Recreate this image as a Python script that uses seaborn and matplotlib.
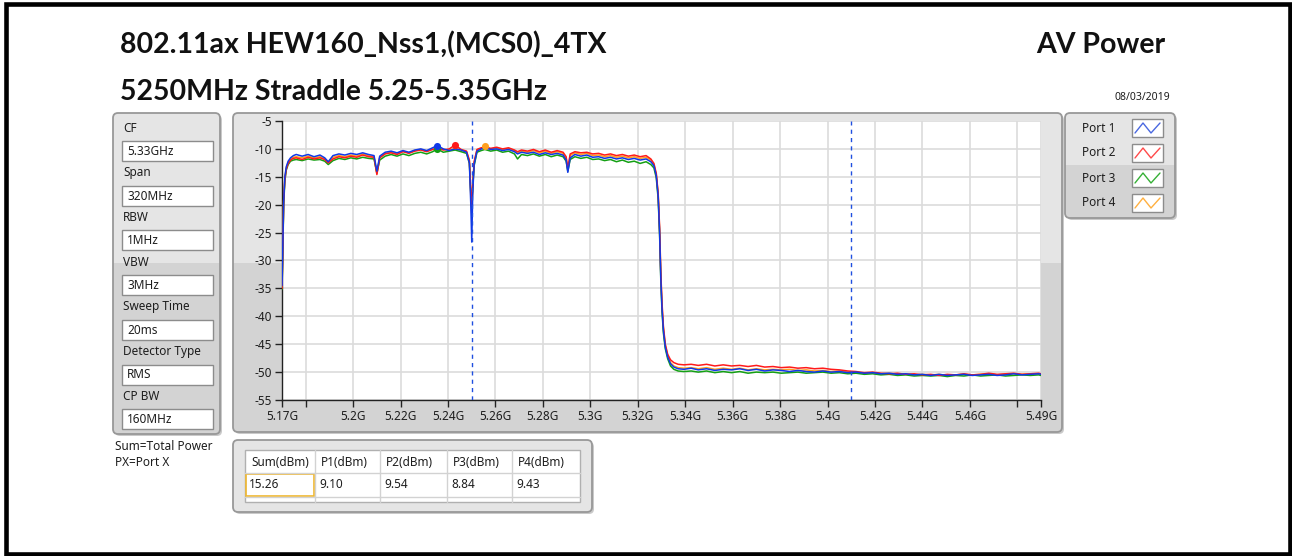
import numpy as np
import pandas as pd
import matplotlib
matplotlib.use("Agg")
import matplotlib.pyplot as plt
import seaborn as sns
from matplotlib.patches import FancyBboxPatch, Rectangle

# spectrum trace, frequency in GHz, level in dBm
freq_ghz = [
    5.1700, 5.1703, 5.1707, 5.1712, 5.1718, 5.1726, 5.1736, 5.1748,
    5.1760, 5.1785, 5.1810, 5.1835, 5.1860, 5.1880, 5.1895, 5.1915,
    5.1940, 5.1965, 5.1990, 5.2015, 5.2040, 5.2065, 5.2088, 5.2100,
    5.2112, 5.2135, 5.2160, 5.2185, 5.2210, 5.2235, 5.2260, 5.2285,
    5.2310, 5.2335, 5.2355, 5.2380, 5.2405, 5.2430, 5.2455, 5.2478,
    5.2490, 5.2496, 5.2500, 5.2504, 5.2510, 5.2522, 5.2540, 5.2555,
    5.2580, 5.2605, 5.2630, 5.2655, 5.2680, 5.2693, 5.2710, 5.2735,
    5.2760, 5.2785, 5.2810, 5.2835, 5.2860, 5.2885, 5.2898, 5.2905,
    5.2915, 5.2935, 5.2960, 5.2985, 5.3010, 5.3035, 5.3060, 5.3085,
    5.3110, 5.3135, 5.3160, 5.3185, 5.3210, 5.3235, 5.3255, 5.3268,
    5.3278, 5.3286, 5.3292, 5.3297, 5.3302, 5.3308, 5.3316, 5.3326,
    5.3338, 5.3352, 5.3370, 5.3395, 5.3425, 5.3455, 5.3490, 5.3525,
    5.3560, 5.3595, 5.3630, 5.3665, 5.3700, 5.3735, 5.3770, 5.3805,
    5.3840, 5.3875, 5.3910, 5.3945, 5.3980, 5.4015, 5.4050, 5.4085,
    5.4120, 5.4155, 5.4190, 5.4225, 5.4260, 5.4295, 5.4330, 5.4365,
    5.4400, 5.4435, 5.4470, 5.4505, 5.4540, 5.4575, 5.4610, 5.4645,
    5.4680, 5.4715, 5.4750, 5.4785, 5.4820, 5.4855, 5.4890, 5.4900,
]

port1_dbm = [
    -34.5, -28.5, -19.5, -15.0, -13.2, -12.2, -11.6, -11.2,
    -11.0, -11.3, -11.0, -11.4, -11.1, -11.6, -12.3, -11.2,
    -10.9, -11.1, -10.8, -11.0, -10.7, -11.0, -11.2, -14.0,
    -11.3, -10.6, -10.4, -10.7, -10.3, -10.6, -10.2, -10.0,
    -10.3, -9.8, -9.4, -10.0, -10.3, -10.0, -10.2, -10.6,
    -12.5, -20.0, -26.7, -18.0, -12.8, -10.4, -10.0, -9.8,
    -10.1, -10.0, -10.3, -10.1, -10.5, -10.9, -10.6, -10.8,
    -10.6, -11.0, -10.7, -11.0, -10.8, -11.1, -12.0, -14.2,
    -11.6, -11.0, -11.3, -11.1, -11.5, -11.4, -11.7, -11.5,
    -11.8, -11.6, -11.9, -11.7, -12.0, -11.8, -12.3, -13.0,
    -14.8, -18.5, -25.0, -33.0, -38.5, -42.5, -45.5, -47.3,
    -48.5, -49.1, -49.4, -49.5, -49.3, -49.6, -49.4, -49.7,
    -49.5, -49.6, -49.4, -49.7, -49.5, -49.8, -49.6, -49.7,
    -49.9, -49.7, -49.9, -50.0, -49.8, -50.0, -49.9, -50.1,
    -50.0, -50.2, -50.1, -50.3, -50.2, -50.4, -50.3, -50.5,
    -50.4, -50.6, -50.4, -50.6, -50.5, -50.4, -50.6, -50.5,
    -50.4, -50.6, -50.5, -50.3, -50.5, -50.4, -50.3, -50.4,
]

port2_dbm = [
    -35.0, -29.0, -19.2, -15.5, -13.6, -12.6, -12.0, -11.7,
    -11.6, -11.9, -11.5, -11.8, -11.6, -11.9, -12.5, -11.8,
    -11.4, -11.6, -11.3, -11.5, -11.1, -11.4, -11.5, -14.6,
    -11.6, -10.9, -10.7, -11.0, -10.5, -10.8, -10.4, -10.2,
    -10.5, -10.1, -9.9, -10.2, -10.0, -9.3, -10.1, -10.4,
    -12.0, -17.5, -20.3, -16.5, -12.3, -10.1, -9.8, -9.7,
    -9.9, -9.7, -10.0, -9.8, -10.2, -10.5, -10.2, -10.4,
    -10.1, -10.5, -10.2, -10.6, -10.3, -10.6, -11.4, -13.5,
    -10.9, -10.5, -10.7, -10.6, -10.9, -10.8, -11.1, -10.9,
    -11.2, -11.0, -11.3, -11.1, -11.4, -11.2, -11.8, -12.6,
    -14.4, -18.0, -24.0, -32.0, -37.5, -41.8, -45.0, -46.8,
    -47.8, -48.3, -48.6, -48.7, -48.6, -48.8, -48.6, -48.9,
    -48.7, -48.9, -48.8, -49.0, -48.8, -49.1, -49.0, -49.2,
    -49.1, -49.3, -49.2, -49.4, -49.3, -49.5, -49.6, -49.8,
    -49.9, -50.1, -50.0, -50.2, -50.3, -50.2, -50.4, -50.3,
    -50.5, -50.4, -50.6, -50.4, -50.5, -50.3, -50.5, -50.4,
    -50.2, -50.4, -50.3, -50.2, -50.4, -50.3, -50.2, -50.3,
]

port3_dbm = [
    -35.2, -29.5, -20.0, -15.8, -13.8, -12.8, -12.2, -12.0,
    -11.9, -12.1, -11.8, -12.0, -11.9, -12.2, -12.8, -12.1,
    -11.7, -11.9, -11.6, -11.8, -11.5, -11.7, -11.8, -14.3,
    -12.0, -11.3, -11.0, -11.3, -10.9, -11.2, -10.8, -10.6,
    -10.9, -10.5, -10.0, -10.6, -10.4, -10.2, -10.5, -10.8,
    -12.6, -18.0, -20.5, -17.0, -13.0, -10.6, -10.3, -10.1,
    -10.4, -10.2, -10.6, -10.4, -10.9, -11.8, -11.0, -11.2,
    -10.9, -11.3, -11.0, -11.4, -11.1, -11.4, -12.2, -14.0,
    -11.9, -11.4, -11.7, -11.5, -11.9, -11.8, -12.1, -11.9,
    -12.3, -12.0, -12.4, -12.2, -12.6, -12.3, -12.8, -13.4,
    -15.2, -19.0, -25.5, -33.5, -39.0, -43.0, -45.8, -47.6,
    -48.9, -49.5, -49.8, -49.9, -49.8, -50.0, -49.8, -50.1,
    -49.9, -50.1, -49.9, -50.2, -50.0, -50.1, -50.0, -50.2,
    -50.1, -50.0, -50.2, -50.1, -50.0, -50.2, -50.1, -50.3,
    -50.2, -50.4, -50.3, -50.5, -50.4, -50.6, -50.5, -50.7,
    -50.6, -50.7, -50.6, -50.8, -50.6, -50.7, -50.5, -50.7,
    -50.6, -50.5, -50.7, -50.6, -50.5, -50.6, -50.5, -50.6,
]

port4_dbm = [
    -34.8, -28.8, -19.4, -15.2, -13.4, -12.4, -11.8, -11.5,
    -11.4, -11.6, -11.3, -11.6, -11.4, -11.8, -12.4, -11.5,
    -11.2, -11.4, -11.1, -11.3, -10.9, -11.2, -11.4, -14.4,
    -11.5, -10.8, -10.6, -10.9, -10.4, -10.7, -10.3, -10.1,
    -10.4, -10.0, -9.8, -10.1, -10.2, -9.9, -10.2, -10.5,
    -12.2, -18.5, -22.0, -17.0, -12.5, -10.2, -9.9, -9.5,
    -10.0, -9.8, -10.1, -9.9, -10.3, -10.7, -10.4, -10.6,
    -10.3, -10.7, -10.4, -10.8, -10.5, -10.8, -11.7, -13.8,
    -11.2, -10.7, -11.0, -10.8, -11.2, -11.1, -11.4, -11.2,
    -11.5, -11.3, -11.6, -11.4, -11.7, -11.5, -12.0, -12.8,
    -14.6, -18.2, -24.5, -32.5, -38.0, -42.2, -45.2, -47.0,
    -48.3, -48.9, -49.2, -49.3, -49.2, -49.4, -49.2, -49.5,
    -49.3, -49.5, -49.3, -49.6, -49.4, -49.6, -49.5, -49.6,
    -49.5, -49.7, -49.6, -49.8, -49.7, -49.9, -49.8, -50.0,
    -50.1, -50.2, -50.1, -50.3, -50.2, -50.4, -50.3, -50.5,
    -50.4, -50.5, -50.4, -50.6, -50.5, -50.4, -50.5, -50.4,
    -50.3, -50.5, -50.4, -50.3, -50.4, -50.3, -50.3, -50.4,
]

ports = ["Port 1", "Port 2", "Port 3", "Port 4"]
port_colors = ["#1038e8", "#ff1a1a", "#14a014", "#ffa020"]
legend_colors = ["#4a68e0", "#ff4a4a", "#36b036", "#ffb040"]

cursor_freqs = [5.25, 5.41]

y_ticks = [-55, -50, -45, -40, -35, -30, -25, -20, -15, -10, -5]
x_ticks = [5.17, 5.18, 5.20, 5.22, 5.24, 5.26, 5.28, 5.30, 5.32,
           5.34, 5.36, 5.38, 5.40, 5.42, 5.44, 5.46, 5.48, 5.49]
x_tick_labels = ["5.17G", "", "5.2G", "5.22G", "5.24G", "5.26G", "5.28G", "5.3G", "5.32G",
                 "5.34G", "5.36G", "5.38G", "5.4G", "5.42G", "5.44G", "5.46G", "", "5.49G"]

setting_names = ["CF", "Span", "RBW", "VBW", "Sweep Time", "Detector Type", "CP BW"]
setting_values = ["5.33GHz", "320MHz", "1MHz", "3MHz", "20ms", "RMS", "160MHz"]

table_headers = ["Sum(dBm)", "P1(dBm)", "P2(dBm)", "P3(dBm)", "P4(dBm)"]
table_values = ["15.26", "9.10", "9.54", "8.84", "9.43"]

title1 = "802.11ax HEW160_Nss1,(MCS0)_4TX"
title2 = "5250MHz Straddle 5.25-5.35GHz"
mode_text = "AV Power"
date_text = "08/03/2019"

sns.set_theme(style="white")
plt.rcParams["font.family"] = ["Noto Sans", "DejaVu Sans"]

W, H = 1292, 556
fig = plt.figure(figsize=(W / 100, H / 100), dpi=100)
fig.patch.set_facecolor("white")

# background layer in pixel coordinates
bg = fig.add_axes([0, 0, 1, 1])
bg.set_xlim(0, W)
bg.set_ylim(H, 0)
bg.axis("off")

txt = "#1e1e1e"


def panel(x0, y0, x1, y1, split=None, light="#e5e5e5", dark="#d3d3d3"):
    bg.add_patch(FancyBboxPatch((x0 + 2, y0 + 2), x1 - x0, y1 - y0,
                                boxstyle="round,pad=0,rounding_size=5",
                                fc="#c9c9c9", ec="none"))
    p = FancyBboxPatch((x0, y0), x1 - x0, y1 - y0,
                       boxstyle="round,pad=0,rounding_size=5",
                       fc=light, ec="none")
    bg.add_patch(p)
    if split is not None:
        r = Rectangle((x0, split), x1 - x0, y1 - split, fc=dark, ec="none")
        bg.add_patch(r)
        r.set_clip_path(p)
    bg.add_patch(FancyBboxPatch((x0, y0), x1 - x0, y1 - y0,
                                boxstyle="round,pad=0,rounding_size=5",
                                fc="none", ec="#989898", lw=1.3))


# outer frame
bg.add_patch(Rectangle((5.5, 4), 1284.5, 549.5, fc="none", ec="black", lw=3.3))

# titles
title_font = dict(fontsize=20.5, fontweight="bold", va="center",
                  family=["Lato", "DejaVu Sans"], color="#111111")
bg.text(120, 45, title1, ha="left", **title_font)
bg.text(120, 92, title2, ha="left", **title_font)
bg.text(1165, 45, mode_text, ha="right", **title_font)
bg.text(1170, 97, date_text, fontsize=7.5, va="center", ha="right", color=txt)

# settings panel
panel(113, 113, 220, 434, split=263)
for i, (name, val) in enumerate(zip(setting_names, setting_values)):
    yc = 128 + i * 44.7
    bg.text(123, yc, name, fontsize=8.5, va="center", ha="left", color=txt)
    bg.add_patch(Rectangle((122, yc + 13), 91, 20, fc="white", ec="#8c8c8c", lw=1))
    bg.text(127, yc + 23.5, val, fontsize=8.5, va="center", ha="left", color=txt)

bg.text(115, 447, "Sum=Total Power", fontsize=8.5, va="center", ha="left", color=txt)
bg.text(115, 463, "PX=Port X", fontsize=8.5, va="center", ha="left", color=txt)

# graph panel
panel(233, 113, 1062, 432, split=263)

# legend panel
panel(1065, 113, 1175, 218, split=165)
for i, (name, col) in enumerate(zip(ports, legend_colors)):
    yc = 128 + i * 25
    bg.text(1082, yc, name, fontsize=8.5, va="center", ha="left", color=txt)
    bg.add_patch(Rectangle((1132, yc - 9), 31, 18, fc="white", ec="#8c8c8c", lw=1))
    bg.plot([1135, 1143, 1151, 1160], [yc + 5, yc - 5, yc + 5, yc - 5], color=col, lw=1)

# results table
panel(233, 440, 592, 512)
bg.add_patch(Rectangle((245, 450), 335, 52, fc="white", ec="#b0b0b0", lw=1))
col_edges = [245, 315, 380, 447, 512, 580]
for x in col_edges[1:-1]:
    bg.plot([x, x], [450, 502], color="#d2d2d2", lw=1)
for y in [473, 497]:
    bg.plot([245, 580], [y, y], color="#d2d2d2", lw=1)
for i, (hd, val) in enumerate(zip(table_headers, table_values)):
    bg.text(col_edges[i] + 6, 462, hd, fontsize=8.5, va="center", ha="left", color=txt)
    bg.text(col_edges[i] + 4, 485, val, fontsize=8.5, va="center", ha="left", color=txt)
bg.add_patch(Rectangle((246, 474), 68, 22, fc="none", ec="#f0b830", lw=1.2))

# spectrum plot
ax = fig.add_axes([282 / W, 1 - 400 / H, (1041 - 282) / W, (400 - 121) / H])
ax.set_facecolor("white")

df = pd.DataFrame({
    "freq": freq_ghz * 4,
    "level": port1_dbm + port2_dbm + port3_dbm + port4_dbm,
    "port": [p for p in ports for _ in freq_ghz],
})
draw_order = ["Port 4", "Port 3", "Port 2", "Port 1"]
palette = dict(zip(ports, port_colors))
sns.lineplot(data=df, x="freq", y="level", hue="port", hue_order=draw_order,
             palette=palette, estimator=None, sort=False, lw=1.1,
             legend=False, ax=ax, zorder=3)

# peak markers
for p in draw_order:
    sub = df[df["port"] == p]
    k = sub["level"].idxmax()
    ax.scatter(sub.loc[k, "freq"], sub.loc[k, "level"], s=26, color=palette[p],
               zorder=4, linewidths=0)

for f in cursor_freqs:
    ax.axvline(f, color="#1f4fe0", lw=1, ls=(0, (3, 3)), zorder=5)

ax.set_xlim(5.17, 5.49)
ax.set_ylim(-55, -5)
ax.set_xticks(x_ticks)
ax.set_xticklabels(x_tick_labels)
ax.set_yticks(y_ticks)
ax.set_yticklabels([str(v) for v in y_ticks])
ax.grid(True, color="#dcdcdc", lw=1.2)
ax.set_axisbelow(True)
ax.set_xlabel("")
ax.set_ylabel("")
for s in ["top", "right"]:
    ax.spines[s].set_visible(False)
for s in ["left", "bottom"]:
    ax.spines[s].set_color("#222222")
    ax.spines[s].set_linewidth(1)
ax.tick_params(axis="both", direction="out", length=5, width=1, color="#222222",
               labelsize=8.5, labelcolor=txt, pad=2, left=True, bottom=True)

fig.savefig("out.png", dpi=100)
